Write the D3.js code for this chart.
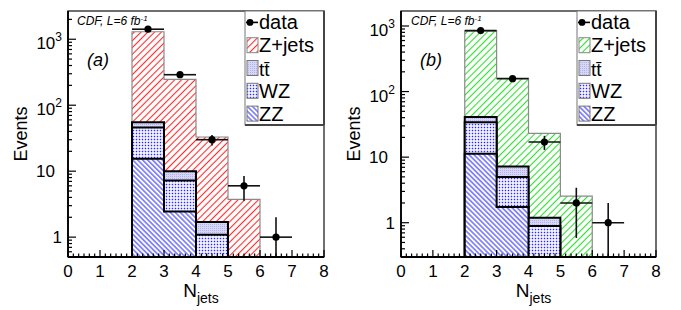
<!DOCTYPE html>
<html><head><meta charset="utf-8">
<script src="https://cdn.jsdelivr.net/npm/d3@7"></script>
<style>
body{margin:0;background:#fff}
svg{display:block}
text{font-family:"Liberation Sans",Arial,Helvetica,sans-serif;fill:#000}
</style>
</head><body>
<svg id="c" width="681" height="310"></svg>
<script>
// ---------------- data ----------------
const binLow = [2, 3, 4, 5, 6];                 // N_jets bins (lower edges, width 1)
const xTickValues = [0, 1, 2, 3, 4, 5, 6, 7, 8];
const yDecades = [1, 10, 100, 1000];
const yTickBase = ["1", "10", "10", "10"];
const yTickExp = ["", "", "2", "3"];
const legendLabels = ["data", "Z+jets", "tt", "WZ", "ZZ"];
const panelTags = ["(a)", "(b)"];

// panel (a)
const dataA  = [1420, 290, 30, 6, 1];
const zjetsA = [1245, 237, 31.3, 3.6, 0];
const ttbarA = [9, 2.8, 0.6, 0.05, 0];
const wzA    = [30.6, 4.75, 0.69, 0.05, 0];
const zzA    = [15.4, 2.45, 0.4, 0.05, 0];
// panel (b)
const dataB  = [850, 157, 17, 2, 1];
const zjetsB = [804, 153.8, 21.8, 2.4, 0];
const ttbarB = [7, 2.2, 0.3, 0.05, 0];
const wzB    = [22.7, 3.27, 0.64, 0.05, 0];
const zzB    = [11.3, 1.73, 0.25, 0.05, 0];

// ---------------- drawing ----------------
const svg = d3.select("#c");
const defs = svg.append("defs");

function hatch(id, color, spacing, angle, width) {
  const p = defs.append("pattern").attr("id", id).attr("patternUnits", "userSpaceOnUse")
    .attr("width", spacing).attr("height", 10).attr("patternTransform", `rotate(${angle})`);
  p.append("rect").attr("width", spacing).attr("height", 10).attr("fill", "#fff");
  p.append("line").attr("x1", spacing / 2).attr("x2", spacing / 2).attr("y1", 0).attr("y2", 10)
    .attr("stroke", color).attr("stroke-width", width);
}
hatch("hRed", "#ff2a2a", 4.8, 45, 1.1);
hatch("hGreen", "#2ee02e", 4.8, 45, 1.1);
hatch("hBlue", "#2424ff", 3.5, -45, 1.0);
{
  const p = defs.append("pattern").attr("id", "dots").attr("patternUnits", "userSpaceOnUse")
    .attr("width", 3).attr("height", 3);
  p.append("rect").attr("width", 3).attr("height", 3).attr("fill", "#fff");
  p.append("rect").attr("x", 0.75).attr("y", 0.75).attr("width", 1.5).attr("height", 1.5).attr("fill", "#2a2aff");
}
{
  const p = defs.append("pattern").attr("id", "ttpat").attr("patternUnits", "userSpaceOnUse")
    .attr("width", 2).attr("height", 2);
  p.append("rect").attr("width", 2).attr("height", 2).attr("fill", "#d6d6f6");
  p.append("rect").attr("x", 0).attr("y", 0).attr("width", 1).attr("height", 1).attr("fill", "#b4b4ea");
}

const panels = [
  {tag: panelTags[0], left: 68, right: 324, top: 11, bottom: 257, ymin: 0.5, ymax: 2680,
   data: dataA, zjets: zjetsA, ttbar: ttbarA, wz: wzA, zz: zzA, zfill: "url(#hRed)"},
  {tag: panelTags[1], left: 401, right: 656, top: 11, bottom: 257, ymin: 0.3, ymax: 1693,
   data: dataB, zjets: zjetsB, ttbar: ttbarB, wz: wzB, zz: zzB, zfill: "url(#hGreen)"}
];

panels.forEach((P, pi) => {
  const x = d3.scaleLinear().domain([0, 8]).range([P.left, P.right]);
  const y = d3.scaleLog().domain([P.ymin, P.ymax]).range([P.bottom, P.top]).clamp(true);
  const g = svg.append("g");
  const clipId = "clip" + pi;
  defs.append("clipPath").attr("id", clipId).append("rect")
    .attr("x", P.left).attr("y", P.top).attr("width", P.right - P.left).attr("height", P.bottom - P.top);
  const plot = g.append("g").attr("clip-path", `url(#${clipId})`);

  const yv = v => y(Math.max(v, P.ymin * 0.1));
  function stepPts(vals) {
    const pts = [[x(binLow[0]), P.bottom]];
    vals.forEach((v, i) => { pts.push([x(binLow[i]), yv(v)], [x(binLow[i] + 1), yv(v)]); });
    pts.push([x(binLow[binLow.length - 1] + 1), P.bottom]);
    return pts;
  }
  const line = d3.line();
  const cZZ = P.zz;
  const cWZ = P.zz.map((v, i) => v + P.wz[i]);
  const cTT = cWZ.map((v, i) => v + P.ttbar[i]);
  const cZJ = cTT.map((v, i) => v + P.zjets[i]);

  plot.append("path").attr("d", line(stepPts(cZJ)) + "Z").attr("fill", P.zfill)
    .attr("stroke", "#8a8a8a").attr("stroke-width", 1.2);
  plot.append("path").attr("d", line(stepPts(cTT)) + "Z").attr("fill", "url(#ttpat)")
    .attr("stroke", "#000").attr("stroke-width", 2);
  plot.append("path").attr("d", line(stepPts(cWZ)) + "Z").attr("fill", "url(#dots)")
    .attr("stroke", "#000").attr("stroke-width", 2);
  plot.append("path").attr("d", line(stepPts(cZZ)) + "Z").attr("fill", "url(#hBlue)")
    .attr("stroke", "#000").attr("stroke-width", 2);

  // data points
  P.data.forEach((v, i) => {
    const cx = x(binLow[i] + 0.5), cy = y(v), e = Math.sqrt(v);
    plot.append("line").attr("x1", x(binLow[i])).attr("x2", x(binLow[i] + 1)).attr("y1", cy).attr("y2", cy)
      .attr("stroke", "#111").attr("stroke-width", 1.6);
    plot.append("line").attr("x1", cx).attr("x2", cx).attr("y1", y(v + e)).attr("y2", yv(v - e))
      .attr("stroke", "#111").attr("stroke-width", 1.6);
    plot.append("circle").attr("cx", cx).attr("cy", cy).attr("r", 3.6).attr("fill", "#000");
  });

  // frame
  g.append("rect").attr("x", P.left).attr("y", P.top).attr("width", P.right - P.left).attr("height", P.bottom - P.top)
    .attr("fill", "none").attr("stroke", "#222").attr("stroke-width", 1.3);
  g.append("line").attr("x1", P.left).attr("x2", P.right).attr("y1", P.bottom).attr("y2", P.bottom)
    .attr("stroke", "#000").attr("stroke-width", 2.2);
  g.append("line").attr("x1", P.left).attr("x2", P.left).attr("y1", P.top).attr("y2", P.bottom)
    .attr("stroke", "#000").attr("stroke-width", 1.8);

  // x ticks
  const minorX = d3.range(0, 8 * 6 + 1).map(k => k / 6);
  minorX.forEach(t => {
    const major = Math.abs(t - Math.round(t)) < 1e-6;
    g.append("line").attr("x1", x(t)).attr("x2", x(t)).attr("y1", P.bottom).attr("y2", P.bottom - (major ? 7 : 3.5))
      .attr("stroke", "#000").attr("stroke-width", 1.2);
  });
  xTickValues.forEach(t => {
    g.append("text").attr("x", x(t)).attr("y", 277).attr("text-anchor", "middle")
      .attr("font-size", 17).text(t);
  });
  // y ticks
  const logTicks = [];
  for (let d = -1; d <= 4; d++) for (let m = 1; m <= 9; m++) {
    const v = m * Math.pow(10, d);
    if (v >= P.ymin && v <= P.ymax) logTicks.push([v, m === 1]);
  }
  logTicks.forEach(([v, major]) => {
    g.append("line").attr("x1", P.left).attr("x2", P.left + (major ? 8 : 4)).attr("y1", y(v)).attr("y2", y(v))
      .attr("stroke", "#000").attr("stroke-width", 1.2);
  });
  yDecades.forEach((v, i) => {
    const t = g.append("text").attr("y", y(v) + 6).attr("font-size", 17).attr("text-anchor", "end");
    if (yTickExp[i]) {
      t.attr("x", P.left - 6).attr("y", y(v) + 10);
      t.append("tspan").text(yTickBase[i]);
      t.append("tspan").attr("dy", -8).attr("font-size", 12).text(yTickExp[i]);
    } else if (yTickBase[i] === "10") {
      t.attr("x", P.left - 13).text(yTickBase[i]);
    } else {
      t.attr("x", P.left - 6).text(yTickBase[i]);
    }
  });

  // axis titles
  g.append("text").attr("transform", `translate(${P.left - 41},134) rotate(-90)`).attr("text-anchor", "middle")
    .attr("font-size", 18).text("Events");
  const xt = g.append("text").attr("x", x(3.6)).attr("y", 297).attr("font-size", 19);
  xt.append("tspan").text("N");
  xt.append("tspan").attr("dy", 6).attr("font-size", 14).text("jets");

  // annotations
  const cdf = g.append("text").attr("x", P.left + 9 + (pi ? 1 : 0)).attr("y", 25).attr("font-size", 12)
    .attr("font-style", "italic");
  cdf.append("tspan").text("CDF, L=6 fb");
  cdf.append("tspan").attr("dy", -4).attr("font-size", 8).text("-1");
  g.append("text").attr("x", P.left + 19).attr("y", 66).attr("font-size", 18).attr("font-style", "italic").text(P.tag);

  // legend
  const lx = P.right - 79, ly = P.top, lw = 79, lh = 114;
  const L = g.append("g");
  L.append("rect").attr("x", lx).attr("y", ly).attr("width", lw).attr("height", lh)
    .attr("fill", "#fff").attr("stroke", "#777").attr("stroke-width", 1);
  L.append("line").attr("x1", lx).attr("x2", lx + lw).attr("y1", ly + lh).attr("y2", ly + lh)
    .attr("stroke", "#444").attr("stroke-width", 2);
  L.append("line").attr("x1", lx + lw).attr("x2", lx + lw).attr("y1", ly).attr("y2", ly + lh)
    .attr("stroke", "#444").attr("stroke-width", 2);
  const rowH = lh / 5;
  const fills = [null, P.zfill, "url(#ttpat)", "url(#dots)", "url(#hBlue)"];
  const strokes = [null, "#888", "#777", "#777", "#777"];
  legendLabels.forEach((lab, i) => {
    const cy = ly + rowH * (i + 0.5);
    if (i === 0) {
      L.append("line").attr("x1", lx + 1).attr("x2", lx + 13).attr("y1", cy).attr("y2", cy)
        .attr("stroke", "#000").attr("stroke-width", 1.6);
      L.append("circle").attr("cx", lx + 5).attr("cy", cy).attr("r", 3.4).attr("fill", "#000");
    } else {
      L.append("rect").attr("x", lx + 2).attr("y", cy - 7.5).attr("width", 11).attr("height", 15)
        .attr("fill", fills[i]).attr("stroke", strokes[i]).attr("stroke-width", 1);
    }
    const t = L.append("text").attr("x", lx + 14).attr("y", cy + 7).attr("font-size", 20);
    if (i === 2) {
      t.attr("y", cy + 8).attr("font-size", 19);
      t.append("tspan").text("t");
      t.append("tspan").text("t\u0304");
    } else t.text(lab);
  });
});
</script>
</body></html>
